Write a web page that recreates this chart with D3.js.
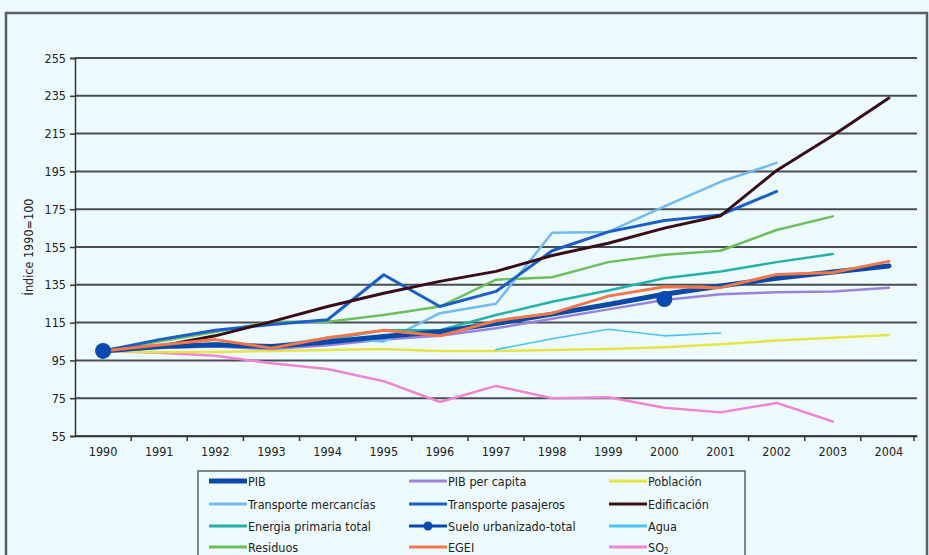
<!DOCTYPE html>
<html><head><meta charset="utf-8">
<script src="https://cdn.jsdelivr.net/npm/d3@7"></script>
<style>
html,body{margin:0;padding:0;background:#eefbfe;}
svg{display:block;font-family:"DejaVu Sans Condensed","DejaVu Sans",sans-serif;}
</style></head>
<body><svg id="c" width="929" height="555"></svg>
<script>
const years = [1990,1991,1992,1993,1994,1995,1996,1997,1998,1999,2000,2001,2002,2003,2004];
const yTicks = [55,75,95,115,135,155,175,195,215,235,255];

const pib            = [100,102.3,103.3,102.3,104.7,107.6,110.2,114.5,119.5,124.6,130.0,134.4,138.5,141.8,145.0];
const pibPerCapita   = [100,101.5,102.3,101,103,106,108,112,117,122,127,130,131,131.5,133.5];
const poblacion      = [100,99.5,99.5,100,100.5,101,100,100,100.5,101,102,103.5,105.5,107,108.5];
const transMerc      = [100,101.5,103,102.5,107,105,120,125,162.5,163,176.5,189.5,199.5,null,null];
const transPas       = [100,106,111,114,116.5,140.3,123.5,131.5,153,163,169,172,184.4,null,null];
const edificacion    = [100,102.5,108,115.5,123.5,130.5,136.8,142.1,150.5,157,165,171.5,195.5,214,233.8];
const energia        = [100,102,104,102,106,111,111,119,126,132,138.5,142,147,151.3,null];
const sueloYears     = [1990,2000];
const suelo          = [100,127.5];
const aguaYears      = [1997,1998,1999,2000,2001];
const agua           = [100.7,106.5,111.5,108,109.5];
const residuos       = [100,105,110,115.5,115.5,119,123.5,137.7,139,147,150.9,153,164,171.2,null];
const egei           = [100,103.2,106,101.5,107,111,108,116,120,129,134,133.5,140.5,141.5,147.4];
const so2            = [100,99,97.5,93.5,90.5,84,73,81.5,75,75.5,70,67.5,72.5,62.7,null];

const seriesNames = ["PIB","PIB per capita","Población","Transporte mercancías","Transporte pasajeros","Edificación","Energia primaria total","Suelo urbanizado-total","Agua","Residuos","EGEI","SO2"];
const seriesColors = ["#0b49a8","#9a82e0","#e6e642","#72baf2","#1a5ecc","#3a0c16","#22b2aa","#0b49b0","#48c4f2","#6cc05c","#f2784a","#f084d2"];
const seriesWidths = [5,2.5,2.5,2.5,3,3,2.5,2,1.6,2.5,3,2.5];

const svg = d3.select("#c");
const W=929,H=555;
svg.append("rect").attr("width",W).attr("height",H).attr("fill","#eefbfe");
svg.append("rect").attr("x",6).attr("y",13).attr("width",921).attr("height",560)
  .attr("fill","none").attr("stroke","#5a6068").attr("stroke-width",2.5);

const L=75,R=917,T=58,B=436;
const x = d3.scaleBand().domain(years).range([L,R]).padding(0);
const cx = d=> x(d)+x.bandwidth()/2;
const y = d3.scaleLinear().domain([55,255]).range([B,T]);

svg.append("g").selectAll("line").data(yTicks).join("line")
  .attr("x1",L).attr("x2",R).attr("y1",d=>y(d)).attr("y2",d=>y(d))
  .attr("stroke","#4a4c54").attr("stroke-width",2);

const yAxis = svg.append("g").attr("transform",`translate(${L},0)`)
  .call(d3.axisLeft(y).tickValues(yTicks).tickSize(5).tickPadding(4));
yAxis.select(".domain").attr("stroke","#333").attr("stroke-width",1.5);
yAxis.selectAll(".tick line").attr("stroke","#333").attr("stroke-width",1.5);
yAxis.selectAll("text").attr("font-size",12.5).attr("fill","#222").style("font-family","'DejaVu Sans Condensed','DejaVu Sans',sans-serif");

const xAxis = svg.append("g").attr("transform",`translate(0,${B})`)
  .call(d3.axisBottom(x).tickSize(0).tickPadding(11));
xAxis.select(".domain").attr("stroke","#333").attr("stroke-width",1.5);
xAxis.selectAll("text").attr("font-size",12.5).attr("fill","#222").style("font-family","'DejaVu Sans Condensed','DejaVu Sans',sans-serif");
svg.append("g").selectAll("line").data(years.slice(1).concat(["end"])).join("line")
  .attr("x1",d=> d==="end"?R-3:x(d)).attr("x2",d=> d==="end"?R-3:x(d))
  .attr("y1",B).attr("y2",B+5).attr("stroke","#333").attr("stroke-width",1.5);

svg.append("text").attr("transform","translate(33,247) rotate(-90)")
  .attr("text-anchor","middle").attr("font-size",12.5).attr("fill","#222").text("Índice 1990=100");

const line = d3.line().defined(d=>d[1]!=null).x(d=>cx(d[0])).y(d=>y(d[1]));
const allData = [
  years.map((yr,i)=>[yr,pib[i]]),
  years.map((yr,i)=>[yr,pibPerCapita[i]]),
  years.map((yr,i)=>[yr,poblacion[i]]),
  years.map((yr,i)=>[yr,transMerc[i]]),
  years.map((yr,i)=>[yr,transPas[i]]),
  years.map((yr,i)=>[yr,edificacion[i]]),
  years.map((yr,i)=>[yr,energia[i]]),
  sueloYears.map((yr,i)=>[yr,suelo[i]]),
  aguaYears.map((yr,i)=>[yr,agua[i]]),
  years.map((yr,i)=>[yr,residuos[i]]),
  years.map((yr,i)=>[yr,egei[i]]),
  years.map((yr,i)=>[yr,so2[i]])
];
const order = [11,2,8,1,3,6,9,4,5,0,10];
order.forEach(i=>{
  svg.append("path").datum(allData[i]).attr("d",line)
    .attr("fill","none").attr("stroke",seriesColors[i]).attr("stroke-width",seriesWidths[i])
    .attr("stroke-linejoin","round").attr("stroke-linecap","round");
});
svg.append("g").selectAll("circle").data(allData[7]).join("circle")
  .attr("cx",d=>cx(d[0])).attr("cy",d=>y(d[1])).attr("r",8).attr("fill",seriesColors[7]);

const lg = svg.append("g");
lg.append("rect").attr("x",198).attr("y",471).attr("width",547).attr("height",100)
  .attr("fill","#eefbfe").attr("stroke","#5a6068").attr("stroke-width",1.5);
const colX=[209,409,609], rowY=[481,504,526,547];
seriesNames.forEach((nm,i)=>{
  const c=i%3, r=Math.floor(i/3);
  const x0=colX[c], yy=rowY[r];
  lg.append("line").attr("x1",x0).attr("x2",x0+38).attr("y1",yy).attr("y2",yy)
    .attr("stroke",seriesColors[i]).attr("stroke-width",i===0?5:3);
  if(i===7) lg.append("circle").attr("cx",x0+19).attr("cy",yy).attr("r",4.5).attr("fill",seriesColors[i]);
  const t=lg.append("text").attr("x",x0+39).attr("y",yy+4.5).attr("font-size",12.5).attr("fill","#222");
  if(nm==="SO2"){ t.text("SO"); t.append("tspan").attr("font-size",8).attr("dy",2).text("2"); }
  else t.text(nm);
});
</script></body></html>
